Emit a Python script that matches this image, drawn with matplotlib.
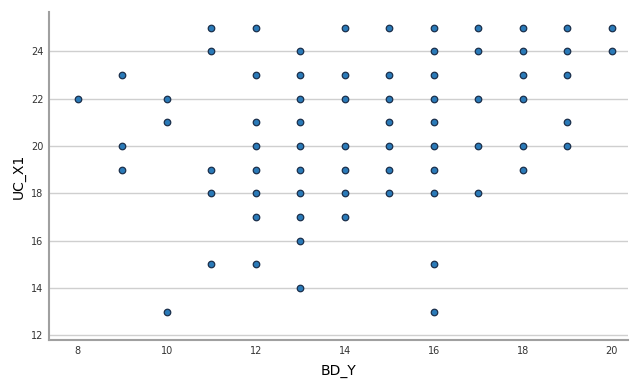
import numpy as np
import matplotlib.pyplot as plt

# BD_Y value -> list of UC_X1 values seen at that column
bd_y_vals = [8, 9, 10, 11, 12, 13, 14, 15, 16, 17, 18, 19, 20]
uc_x1_by_bd = [
    [22],
    [23, 20, 19],
    [22, 21, 13],
    [25, 24, 19, 18, 15],
    [25, 23, 21, 20, 19, 18, 17, 15],
    [24, 23, 22, 21, 20, 19, 18, 17, 16, 14],
    [25, 23, 22, 20, 19, 18, 17],
    [25, 23, 22, 21, 20, 19, 18],
    [25, 24, 23, 22, 21, 20, 19, 18, 15, 13],
    [25, 24, 22, 20, 18],
    [25, 24, 23, 22, 20, 19],
    [25, 24, 23, 21, 20],
    [25, 24],
]

x = np.concatenate([[b] * len(u) for b, u in zip(bd_y_vals, uc_x1_by_bd)])
y = np.concatenate(uc_x1_by_bd)

fig = plt.figure(figsize=(6.33, 3.8), dpi=100)
ax = fig.add_axes([0.0774, 0.105, 0.9146, 0.863])

ax.scatter(x, y, s=22, facecolor='#2a7ab8', edgecolor='#1b2f4a', linewidth=0.9, zorder=3)

ax.set_xlim(7.35, 20.36)
ax.set_ylim(11.8, 25.65)
ax.set_xticks([8, 10, 12, 14, 16, 18, 20])
ax.set_yticks([12, 14, 16, 18, 20, 22, 24])

ax.yaxis.grid(True, color='#cfcfcf', linewidth=1.0)
ax.set_axisbelow(True)
for side in ['top', 'right']:
    ax.spines[side].set_visible(False)
for side in ['left', 'bottom']:
    ax.spines[side].set_color('#a0a0a0')
    ax.spines[side].set_linewidth(1.5)

ax.tick_params(length=0, labelsize=7, labelcolor='#333333', pad=4)
ax.set_xlabel('BD_Y', fontsize=10, labelpad=6)
ax.set_ylabel('UC_X1', fontsize=10, labelpad=4)

fig.savefig('out.png', dpi=100)
